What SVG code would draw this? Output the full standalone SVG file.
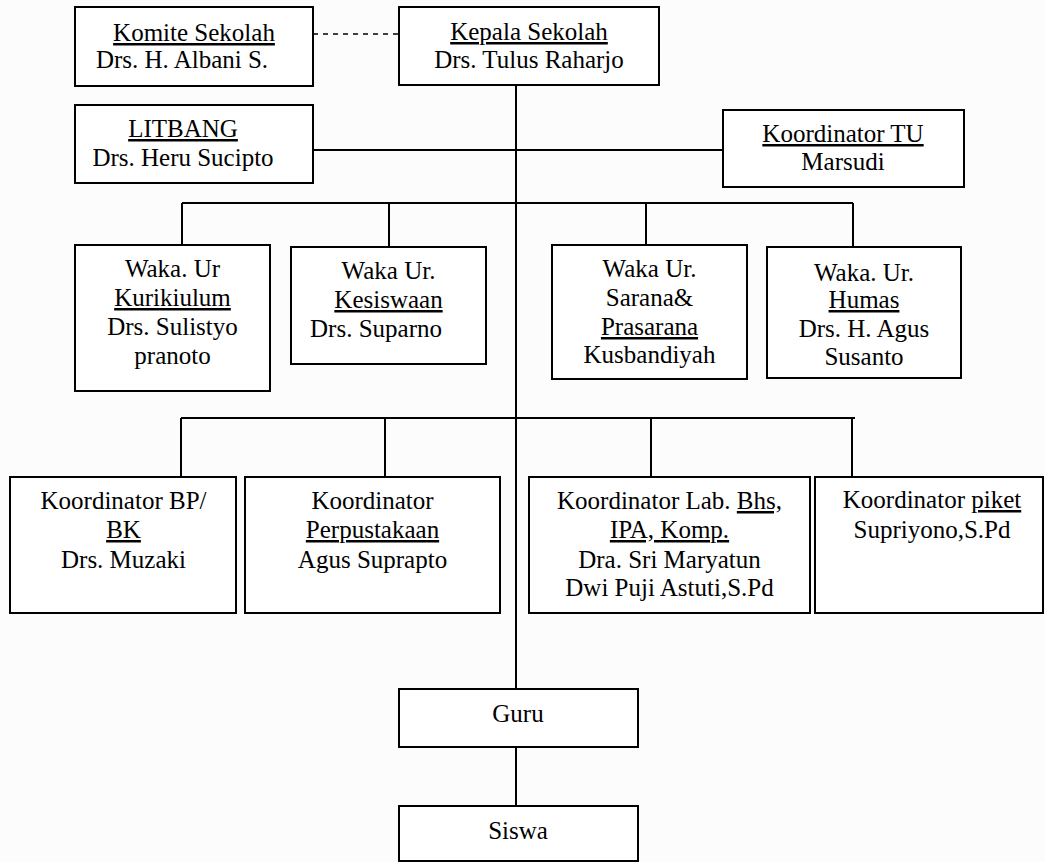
<svg xmlns="http://www.w3.org/2000/svg" width="1045" height="862" viewBox="0 0 1045 862">
<style>
.box{fill:#fff;stroke:#000;stroke-width:2}
.ln{stroke:#000;stroke-width:2;fill:none}
.dash{stroke:#000;stroke-width:1.5;stroke-dasharray:5,5;fill:none}
.t{font-size:25px;fill:#000;text-anchor:middle}
.u{text-decoration:underline}
</style>
<rect width="1045" height="862" fill="#fcfcfc"/>
<g id="connectors">
<line class="dash" x1="313" y1="34" x2="399" y2="34"/>
<line class="ln" x1="516" y1="85" x2="516" y2="689"/>
<line class="ln" x1="516" y1="747" x2="516" y2="806"/>
<line class="ln" x1="313" y1="150" x2="723" y2="150"/>
<line class="ln" x1="182" y1="203" x2="853" y2="203"/>
<line class="ln" x1="182" y1="203" x2="182" y2="245"/>
<line class="ln" x1="389" y1="203" x2="389" y2="247"/>
<line class="ln" x1="646" y1="203" x2="646" y2="245"/>
<line class="ln" x1="853" y1="203" x2="853" y2="247"/>
<line class="ln" x1="181" y1="418" x2="855" y2="418"/>
<line class="ln" x1="181" y1="418" x2="181" y2="477"/>
<line class="ln" x1="385" y1="418" x2="385" y2="477"/>
<line class="ln" x1="651" y1="418" x2="651" y2="477"/>
<line class="ln" x1="852" y1="418" x2="852" y2="477"/>
</g>
<g class="t" font-family="'Times New Roman', 'Liberation Serif', serif">
<g id="komite">
<rect class="box" x="75" y="7" width="238" height="79"/>
<text x="194" y="41"><tspan class="u">Komite Sekolah</tspan></text>
<text x="182" y="68">Drs. H. Albani S.</text>
</g>
<g id="kepala">
<rect class="box" x="399" y="7" width="260" height="78"/>
<text x="529" y="40"><tspan class="u">Kepala Sekolah</tspan></text>
<text x="529" y="68">Drs. Tulus Raharjo</text>
</g>
<g id="litbang">
<rect class="box" x="75" y="105" width="238" height="78"/>
<text x="183" y="137"><tspan class="u">LITBANG</tspan></text>
<text x="183" y="166">Drs. Heru Sucipto</text>
</g>
<g id="koordinator-tu">
<rect class="box" x="723" y="110" width="241" height="77"/>
<text x="843" y="142"><tspan class="u">Koordinator TU</tspan></text>
<text x="843" y="170">Marsudi</text>
</g>
<g id="waka-kurikulum">
<rect class="box" x="75" y="245" width="195" height="146"/>
<text x="172.5" y="277">Waka. Ur</text>
<text x="172.5" y="306"><tspan class="u">Kurikiulum</tspan></text>
<text x="172.5" y="335">Drs. Sulistyo</text>
<text x="172.5" y="364">pranoto</text>
</g>
<g id="waka-kesiswaan">
<rect class="box" x="291" y="247" width="195" height="117"/>
<text x="388.5" y="279">Waka Ur.</text>
<text x="388.5" y="308"><tspan class="u">Kesiswaan</tspan></text>
<text x="376" y="337">Drs. Suparno</text>
</g>
<g id="waka-sarana">
<rect class="box" x="552" y="245" width="195" height="134"/>
<text x="649.5" y="277">Waka Ur.</text>
<text x="649.5" y="306">Sarana&amp;</text>
<text x="649.5" y="335"><tspan class="u">Prasarana</tspan></text>
<text x="649.5" y="363">Kusbandiyah</text>
</g>
<g id="waka-humas">
<rect class="box" x="767" y="247" width="194" height="131"/>
<text x="864" y="281">Waka. Ur.</text>
<text x="864" y="308"><tspan class="u">Humas</tspan></text>
<text x="864" y="337">Drs. H. Agus</text>
<text x="864" y="365">Susanto</text>
</g>
<g id="koord-bpbk">
<rect class="box" x="10" y="477" width="226" height="136"/>
<text x="123.5" y="509">Koordinator BP/</text>
<text x="123.5" y="538"><tspan class="u">BK</tspan></text>
<text x="123.5" y="568">Drs. Muzaki</text>
</g>
<g id="koord-perpustakaan">
<rect class="box" x="245" y="477" width="255" height="136"/>
<text x="372.5" y="509">Koordinator</text>
<text x="372.5" y="538"><tspan class="u">Perpustakaan</tspan></text>
<text x="372.5" y="568">Agus Suprapto</text>
</g>
<g id="koord-lab">
<rect class="box" x="529" y="477" width="281" height="136"/>
<text x="669.5" y="509">Koordinator Lab. <tspan class="u">Bhs,</tspan></text>
<text x="669.5" y="538"><tspan class="u">IPA, Komp.</tspan></text>
<text x="669.5" y="568">Dra. Sri Maryatun</text>
<text x="669.5" y="596">Dwi Puji Astuti,S.Pd</text>
</g>
<g id="koord-piket">
<rect class="box" x="815" y="477" width="228" height="136"/>
<text x="932" y="508">Koordinator <tspan class="u">piket</tspan></text>
<text x="932" y="538">Supriyono,S.Pd</text>
</g>
<g id="guru">
<rect class="box" x="399" y="689" width="239" height="58"/>
<text x="518" y="722">Guru</text>
</g>
<g id="siswa">
<rect class="box" x="399" y="806" width="239" height="55"/>
<text x="518" y="839">Siswa</text>
</g>
</g>
</svg>
